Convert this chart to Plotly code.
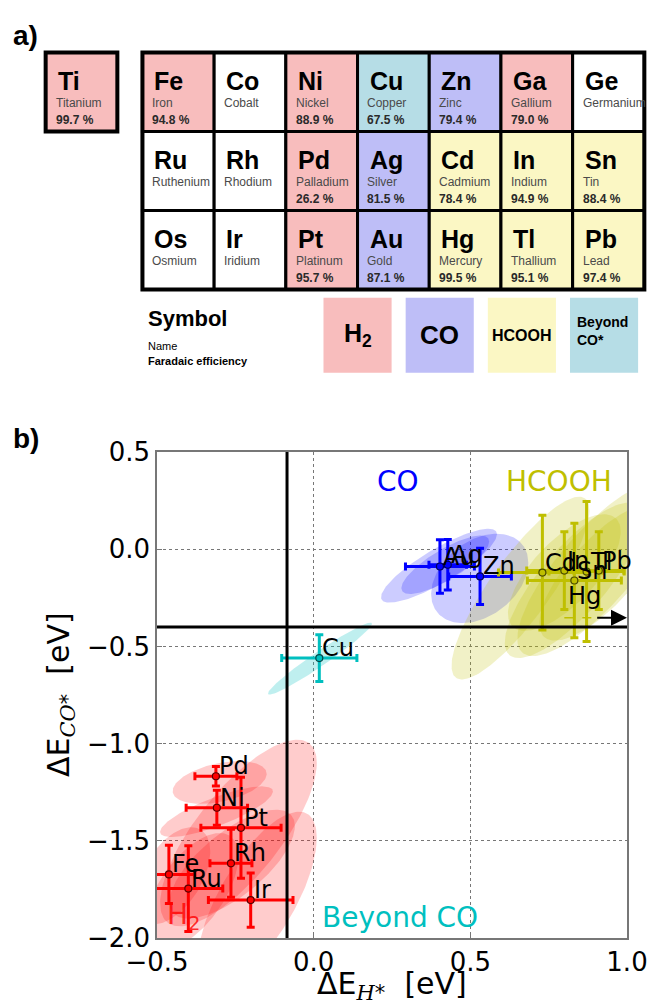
import numpy as np
import plotly.graph_objects as go

# ======================= Panel a : periodic table data =======================
elem_symbols = ["Ti", "Fe", "Co", "Ni", "Cu", "Zn", "Ga", "Ge",
                "Ru", "Rh", "Pd", "Ag", "Cd", "In", "Sn",
                "Os", "Ir", "Pt", "Au", "Hg", "Tl", "Pb"]
elem_names = ["Titanium", "Iron", "Cobalt", "Nickel", "Copper", "Zinc", "Gallium", "Germanium",
              "Ruthenium", "Rhodium", "Palladium", "Silver", "Cadmium", "Indium", "Tin",
              "Osmium", "Iridium", "Platinum", "Gold", "Mercury", "Thallium", "Lead"]
elem_fe = [99.7, 94.8, None, 88.9, 67.5, 79.4, 79.0, None,
           None, None, 26.2, 81.5, 78.4, 94.9, 88.4,
           None, None, 95.7, 87.1, 99.5, 95.1, 97.4]
elem_product = ["H2", "H2", None, "H2", "Beyond", "CO", "H2", None,
                None, None, "H2", "CO", "HCOOH", "HCOOH", "HCOOH",
                None, None, "H2", "CO", "HCOOH", "HCOOH", "HCOOH"]
elem_col = [0, 1, 2, 3, 4, 5, 6, 7, 1, 2, 3, 4, 5, 6, 7, 1, 2, 3, 4, 5, 6, 7]
elem_row = [0, 0, 0, 0, 0, 0, 0, 0, 1, 1, 1, 1, 1, 1, 1, 2, 2, 2, 2, 2, 2, 2]

legend_products = ["H2", "CO", "HCOOH", "Beyond"]
legend_texts = ["H<sub>2</sub>", "CO", "HCOOH", "Beyond<br>CO*"]
legend_sizes = [25, 26, 16, 14]

# ======================= Panel b : scatter data =======================
h2_metals = ["Pd", "Ni", "Pt", "Rh", "Fe", "Ru", "Ir"]
h2_dEH = [-0.312, -0.309, -0.232, -0.264, -0.462, -0.400, -0.201]
h2_dECO = [-1.168, -1.330, -1.433, -1.616, -1.673, -1.746, -1.805]
h2_errH = [0.067, 0.098, 0.128, 0.067, 0.083, 0.110, 0.135]
h2_errCO = [0.050, 0.090, 0.260, 0.175, 0.150, 0.220, 0.140]

co_metals = ["Au", "Ag", "Zn"]
co_dEH = [0.403, 0.428, 0.531]
co_dECO = [-0.089, -0.080, -0.140]
co_errH = [0.110, 0.060, 0.100]
co_errCO = [0.137, 0.130, 0.145]

hc_metals = ["Cd", "In", "Sn", "Tl", "Pb"]
hc_dEH = [0.730, 0.800, 0.832, 0.871, 0.910]
hc_dECO = [-0.120, -0.110, -0.161, -0.115, -0.110]
hc_errH = [0.140, 0.120, 0.150, 0.120, 0.080]
hc_errCO = [0.295, 0.200, 0.295, 0.360, 0.200]

cu_metals = ["Cu"]
cu_dEH = [0.018]
cu_dECO = [-0.560]
cu_errH = [0.120]
cu_errCO = [0.120]

# Hg lies beyond the right edge of the axis (shown with an arrow)
hg_dEH = 1.15
hg_dECO = -0.352
hg_errH_left = 0.35

# uncertainty ellipses: centre x, centre y, half-extent x, half-extent y, correlation
h2_ell = [(-0.30, -1.20, 0.15, 0.11, 0.40),
          (-0.31, -1.35, 0.18, 0.13, 0.80),
          (-0.24, -1.46, 0.25, 0.48, 0.75),
          (-0.26, -1.62, 0.20, 0.28, 0.70),
          (-0.45, -1.68, 0.12, 0.25, 0.50),
          (-0.39, -1.76, 0.15, 0.30, 0.60),
          (-0.18, -1.80, 0.19, 0.45, 0.70)]
co_ell = [(0.400, -0.085, 0.185, 0.190, 0.85),
          (0.420, -0.080, 0.140, 0.150, 0.80),
          (0.530, -0.150, 0.155, 0.230, 0.35)]
hc_ell = [(0.66, -0.20, 0.22, 0.47, 0.85),
          (0.80, -0.12, 0.18, 0.30, 0.70),
          (0.83, -0.16, 0.22, 0.40, 0.80),
          (0.90, -0.10, 0.25, 0.45, 0.80),
          (0.92, -0.12, 0.20, 0.35, 0.75)]
cu_ell = [(0.020, -0.563, 0.166, 0.185, 0.97)]

THRESH_H = -0.085     # vertical black line
THRESH_CO = -0.40     # horizontal black line

# ======================= styles =======================
RED, BLUE, OLIVE, TEAL = "#ff0000", "#0000ff", "#bfbf00", "#00bfbf"
FILL = {"H2": "#f8bdbd", "CO": "#bebef7", "HCOOH": "#fbf7c4", "Beyond": "#b6dde6", None: "white"}
W, H = 648, 1006
PX_L, PX_R, PX_T, PX_B = 157, 627, 452, 938

# table layout (units: cells)
COL_PX, ROW_PX = 71.7, 79.0
X0_PX, Y0_PX = 81.5, 92.0
GAP = 0.35


def disp_x(c):
    return c + (GAP if c > 0 else 0.0)


fig = go.Figure()


def ellipse(cx, cy, sx, sy, rho, n=160):
    t = np.linspace(0, 2 * np.pi, n)
    x = cx + sx * np.cos(t)
    y = cy + sy * (rho * np.cos(t) + np.sqrt(1 - rho ** 2) * np.sin(t))
    return x, y


for ells, rgba in [(h2_ell, "rgba(255,0,0,0.2)"), (co_ell, "rgba(0,0,255,0.2)"),
                   (hc_ell, "rgba(191,191,0,0.22)"), (cu_ell, "rgba(0,191,191,0.25)")]:
    for (cx, cy, sx, sy, rho) in ells:
        ex, ey = ellipse(cx, cy, sx, sy, rho)
        fig.add_trace(go.Scatter(x=ex, y=ey, mode="lines", fill="toself", fillcolor=rgba,
                                 line=dict(width=0), hoverinfo="skip", xaxis="x", yaxis="y"))

# Hg off-axis error segment
fig.add_trace(go.Scatter(x=[hg_dEH - hg_errH_left, 0.9], y=[hg_dECO, hg_dECO], mode="lines",
                         line=dict(color=OLIVE, width=1.5, dash="dash"), hoverinfo="skip"))

groups = [
    (h2_metals, h2_dEH, h2_dECO, h2_errH, h2_errCO, RED, "#5a0000"),
    (co_metals, co_dEH, co_dECO, co_errH, co_errCO, BLUE, "#00005a"),
    (hc_metals, hc_dEH, hc_dECO, hc_errH, hc_errCO, OLIVE, "#4a4a00"),
    (cu_metals, cu_dEH, cu_dECO, cu_errH, cu_errCO, TEAL, "#004a4a"),
]
for names, xs, ys, exs, eys, col, edge in groups:
    fig.add_trace(go.Scatter(
        x=xs, y=ys, mode="markers",
        marker=dict(size=7, color=col, line=dict(color=edge, width=1.2)),
        error_x=dict(type="data", array=exs, color=col, thickness=3, width=4),
        error_y=dict(type="data", array=eys, color=col, thickness=3, width=4),
        hoverinfo="skip"))

annotations = []
for names, xs, ys, exs, eys, col, edge in groups:
    for n, x, y in zip(names, xs, ys):
        annotations.append(dict(x=x, y=y, xref="x", yref="y", text=n, showarrow=False,
                                xanchor="left", yanchor="bottom", xshift=1, yshift=-6,
                                font=dict(family="DejaVu Sans", size=24, color="black")))
# Hg label + arrow
annotations.append(dict(x=0.806, y=-0.29, xref="x", yref="y", text="Hg", showarrow=False,
                        xanchor="left", yanchor="bottom", yshift=-6,
                        font=dict(family="DejaVu Sans", size=24, color="black")))
annotations.append(dict(x=1.0, y=hg_dECO, ax=0.9, ay=hg_dECO, xref="x", yref="y",
                        axref="x", ayref="y", text="", showarrow=True, arrowhead=2,
                        arrowsize=1.6, arrowwidth=2, arrowcolor="black"))

# group labels
for txt, x, y, col, anc in [("CO", 0.27, 0.347, BLUE, "center"),
                            ("HCOOH", 0.783, 0.347, OLIVE, "center"),
                            ("Beyond CO", 0.02, -1.893, TEAL, "left"),
                            ("H<sub>2</sub>", -0.474, -1.89, "rgba(255,0,0,0.8)", "left")]:
    annotations.append(dict(x=x, y=y, xref="x", yref="y", text=txt, showarrow=False,
                            xanchor=anc, yanchor="middle",
                            font=dict(family="DejaVu Sans", size=28, color=col)))

# axis titles
annotations.append(dict(x=392 / W, y=1 - 985 / H, xref="paper", yref="paper",
                        text="ΔE<sub><span style='font-family:DejaVu Serif'><i>H</i></span>*</sub>  [eV]",
                        showarrow=False, xanchor="center", yanchor="middle",
                        font=dict(family="DejaVu Sans", size=30, color="black")))
annotations.append(dict(x=60 / W, y=1 - 695 / H, xref="paper", yref="paper", textangle=-90,
                        text="ΔE<sub><span style='font-family:DejaVu Serif'><i>CO</i></span>*</sub>  [eV]",
                        showarrow=False, xanchor="center", yanchor="middle",
                        font=dict(family="DejaVu Sans", size=30, color="black")))

# panel letters
for txt, ypx in [("a)", 18), ("b)", 421)]:
    annotations.append(dict(x=11 / W, y=1 - ypx / H, xref="paper", yref="paper",
                            text="<b>%s</b>" % txt, showarrow=False, xanchor="left", yanchor="top",
                            font=dict(family="Liberation Sans", size=28, color="black")))

shapes = [
    dict(type="line", xref="x", yref="y", x0=THRESH_H, x1=THRESH_H, y0=-2.0, y1=0.5,
         line=dict(color="black", width=3), layer="above"),
    dict(type="line", xref="x", yref="y", x0=-0.5, x1=1.0, y0=THRESH_CO, y1=THRESH_CO,
         line=dict(color="black", width=3), layer="above"),
]

# ----------------------- panel a drawing -----------------------
for s, nm, fe, prod, c, r in zip(elem_symbols, elem_names, elem_fe, elem_product, elem_col, elem_row):
    xc = disp_x(c)
    x0, x1 = xc - 0.5, xc + 0.5
    y0, y1 = r - 0.5, r + 0.5
    shapes.append(dict(type="rect", xref="x2", yref="y2", x0=x0, x1=x1, y0=y0, y1=y1,
                       fillcolor=FILL[prod], line=dict(color="black", width=4 if c == 0 else 3),
                       layer="above"))
    annotations.append(dict(x=x0 + 0.14, y=y0 + 0.36, xref="x2", yref="y2", text="<b>%s</b>" % s,
                            showarrow=False, xanchor="left", yanchor="middle",
                            font=dict(family="Liberation Sans", size=25, color="black")))
    annotations.append(dict(x=x0 + 0.11, y=y0 + 0.645, xref="x2", yref="y2", text=nm,
                            showarrow=False, xanchor="left", yanchor="middle",
                            font=dict(family="Liberation Sans", size=12, color="#4a4a4a")))
    if fe is not None:
        annotations.append(dict(x=x0 + 0.11, y=y0 + 0.85, xref="x2", yref="y2",
                                text="<b>%.1f %%</b>" % fe, showarrow=False,
                                xanchor="left", yanchor="middle",
                                font=dict(family="Liberation Sans", size=12, color="#2a2a2a")))
# outer border of the main block
shapes.append(dict(type="rect", xref="x2", yref="y2", x0=disp_x(1) - 0.5, x1=disp_x(7) + 0.5,
                   y0=-0.5, y1=2.5, line=dict(color="black", width=4), layer="above"))

# legend of panel a
LEG_Y, LEG_X0, LEG_DX = 3.08, 3.85, 1.146
for i, (p, t, fs) in enumerate(zip(legend_products, legend_texts, legend_sizes)):
    xc = LEG_X0 + i * LEG_DX
    shapes.append(dict(type="rect", xref="x2", yref="y2", x0=xc - 0.475, x1=xc + 0.475,
                       y0=LEG_Y - 0.475, y1=LEG_Y + 0.475, fillcolor=FILL[p],
                       line=dict(width=0), layer="above"))
    if p == "Beyond":
        annotations.append(dict(x=xc - 0.40, y=LEG_Y - 0.05, xref="x2", yref="y2",
                                text="<b>%s</b>" % t, showarrow=False, xanchor="left",
                                yanchor="middle", align="left",
                                font=dict(family="Liberation Sans", size=fs, color="black")))
    else:
        annotations.append(dict(x=xc, y=LEG_Y, xref="x2", yref="y2", text="<b>%s</b>" % t,
                                showarrow=False, xanchor="center", yanchor="middle",
                                font=dict(family="Liberation Sans", size=fs, color="black")))

for txt, yy, fs in [("<b>Symbol</b>", 2.87, 22), ("Name", 3.22, 11), ("<b>Faradaic efficiency</b>", 3.41, 11)]:
    annotations.append(dict(x=0.90, y=yy, xref="x2", yref="y2", text=txt, showarrow=False,
                            xanchor="left", yanchor="middle",
                            font=dict(family="Liberation Sans", size=fs, color="black")))

# invisible trace so the table subplot exists
fig.add_trace(go.Scatter(x=[0], y=[0], xaxis="x2", yaxis="y2", mode="markers",
                         marker=dict(opacity=0), hoverinfo="skip"))

axis_common = dict(showgrid=True, gridcolor="#777", griddash="dot", gridwidth=1,
                   zeroline=False, showline=True, mirror=True, linecolor="#777", linewidth=1.5,
                   ticks="inside", ticklen=5, tickcolor="#777", tickformat=".1f",
                   automargin=False,
                   tickfont=dict(family="DejaVu Sans", size=26, color="black"))

fig.update_layout(
    width=W, height=H, margin=dict(l=0, r=0, t=0, b=0, pad=0, autoexpand=False),
    paper_bgcolor="white", plot_bgcolor="rgba(0,0,0,0)", showlegend=False,
    xaxis=dict(domain=[PX_L / W, PX_R / W], range=[-0.5, 1.0], tickvals=[-0.5, 0, 0.5, 1.0],
               anchor="y", **axis_common),
    yaxis=dict(domain=[1 - PX_B / H, 1 - PX_T / H], range=[-2.0, 0.5],
               tickvals=[-2.0, -1.5, -1.0, -0.5, 0.0, 0.5], anchor="x", **axis_common),
    xaxis2=dict(domain=[0, 1], range=[-X0_PX / COL_PX, (W - X0_PX) / COL_PX], visible=False,
                anchor="y2", automargin=False),
    yaxis2=dict(domain=[0, 1], range=[(H - Y0_PX) / ROW_PX, -Y0_PX / ROW_PX], visible=False,
                anchor="x2", automargin=False),
    shapes=shapes, annotations=annotations,
)

fig.write_html("out.html")
